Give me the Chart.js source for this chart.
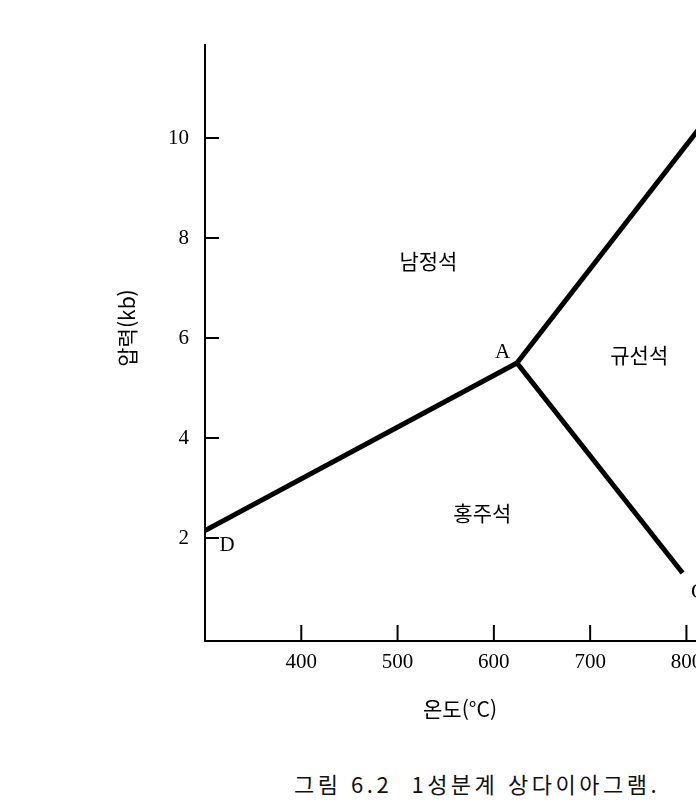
<!DOCTYPE html>
<html lang="ko">
<head>
    <meta charset="UTF-8">
    <title>1성분계 상다이아그램</title>
    <script src="https://cdn.jsdelivr.net/npm/chart.js"></script>
    <style>
        body { margin: 0; background: #fff; overflow: hidden; width: 696px; height: 804px; position: relative; }
        #wrap { position: absolute; left: 0; top: 0; width: 879px; height: 730px; }
        #caption {
            position: absolute; top: 767px; left: 477px; transform: translateX(-50%);
            white-space: nowrap; font-family: "Noto Sans CJK KR", sans-serif;
            font-size: 22px; letter-spacing: 3.5px; color: #111;
        }
    </style>
</head>
<body>
    <div id="wrap"><canvas id="chart" width="879" height="730"></canvas></div>
    <div id="caption">그림 6.2&nbsp; 1성분계 상다이아그램.</div>

    <script>
        // phase boundaries (temperature °C, pressure kb)
        const tempDA = [300, 624];
        const pressDA = [2.15, 5.5];
        const tempAB = [624, 850];
        const pressAB = [5.5, 11.1];
        const tempAC = [624, 796];
        const pressAC = [5.5, 1.3];

        // axis ticks
        const tempTicks = [400, 500, 600, 700, 800];
        const pressTicks = [2, 4, 6, 8, 10];

        // phase field names
        const phaseNames = ['남정석', '규선석', '홍주석'];
        const phaseTemps = [532, 751, 588];
        const phasePress = [7.54, 5.66, 2.5];

        // point labels
        const pointNames = ['A', 'D', 'C'];
        const pointTemps = [609, 323, 812];
        const pointPress = [5.72, 1.86, 0.92];

        const toXY = (xs, ys) => xs.map((v, i) => ({ x: v, y: ys[i] }));

        const line = (data) => ({
            data: data,
            borderColor: '#000',
            borderWidth: 5,
            borderCapStyle: 'butt',
            pointRadius: 0,
            showLine: true,
            tension: 0
        });

        // inward ticks, axis titles, labels
        const decor = {
            id: 'decor',
            afterDatasetsDraw(chart) {
                const { ctx, chartArea, scales: { x, y } } = chart;
                ctx.save();
                ctx.strokeStyle = '#000';
                ctx.lineWidth = 2;
                x.ticks.forEach(t => {
                    const px = x.getPixelForValue(t.value);
                    ctx.beginPath();
                    ctx.moveTo(px, chartArea.bottom);
                    ctx.lineTo(px, chartArea.bottom - 16);
                    ctx.stroke();
                });
                y.ticks.forEach(t => {
                    const py = y.getPixelForValue(t.value);
                    ctx.beginPath();
                    ctx.moveTo(chartArea.left, py);
                    ctx.lineTo(chartArea.left + 14, py);
                    ctx.stroke();
                });

                ctx.fillStyle = '#000';
                ctx.textAlign = 'center';
                ctx.textBaseline = 'middle';

                ctx.font = '21px "Noto Sans CJK KR"';
                phaseNames.forEach((n, i) => {
                    ctx.fillText(n, x.getPixelForValue(phaseTemps[i]), y.getPixelForValue(phasePress[i]));
                });

                ctx.font = '21px "Liberation Serif"';
                pointNames.forEach((n, i) => {
                    ctx.fillText(n, x.getPixelForValue(pointTemps[i]), y.getPixelForValue(pointPress[i]));
                });

                // axis titles
                ctx.font = '21px "Noto Sans CJK KR"';
                ctx.fillText('온도(°C)', chartArea.left + 255, chartArea.bottom + 68);
                ctx.save();
                ctx.translate(chartArea.left - 78, (chartArea.top + chartArea.bottom) / 2 - 15);
                ctx.rotate(-Math.PI / 2);
                ctx.fillText('압력(kb)', 0, 0);
                ctx.restore();

                ctx.restore();
            }
        };

        const chart = new Chart(document.getElementById('chart').getContext('2d'), {
            type: 'scatter',
            data: {
                datasets: [
                    line(toXY(tempDA, pressDA)),
                    line(toXY(tempAB, pressAB)),
                    line(toXY(tempAC, pressAC))
                ]
            },
            options: {
                responsive: false,
                animation: false,
                layout: { padding: { top: 45, left: 0, right: 0, bottom: 0 } },
                plugins: { legend: { display: false }, tooltip: { enabled: false } },
                scales: {
                    x: {
                        type: 'linear',
                        min: 300,
                        max: 1000,
                        afterBuildTicks: s => { s.ticks = tempTicks.map(v => ({ value: v })); },
                        afterFit: s => { s.height = 89; },
                        grid: { display: false, drawTicks: false },
                        border: { display: true, color: '#000', width: 2 },
                        ticks: {
                            color: '#000',
                            padding: 9,
                            font: { family: 'Liberation Serif', size: 21 }
                        }
                    },
                    y: {
                        type: 'linear',
                        min: -0.06,
                        max: 11.86,
                        afterBuildTicks: s => { s.ticks = pressTicks.map(v => ({ value: v })); },
                        afterFit: s => { s.width = 205; },
                        grid: { display: false, drawTicks: false },
                        border: { display: true, color: '#000', width: 2 },
                        ticks: {
                            color: '#000',
                            padding: 16,
                            font: { family: 'Liberation Serif', size: 21 }
                        }
                    }
                }
            },
            plugins: [decor]
        });
    </script>
</body>
</html>
